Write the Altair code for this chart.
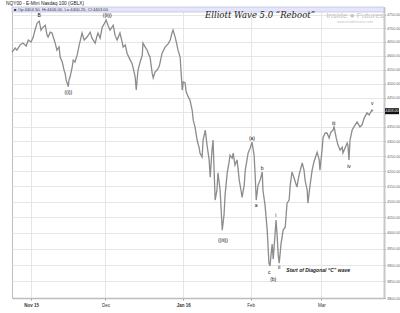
import altair as alt
import pandas as pd

# ---- data ----
session = [-5.4,-4.5,-4.0,-3.1,-2.3,-1.4,-0.8,0.0,0.6,1.1,
           1.7,2.3,2.8,3.1,4.0,4.5,4.8,5.4,5.9,6.8,
           7.3,7.9,8.2,8.8,9.3,9.6,9.9,10.5,10.7,11.0,
           11.6,11.9,12.4,13.0,13.6,14.4,15.0,15.8,16.7,17.2,
           18.1,18.6,18.9,19.5,20.1,20.6,21.2,21.8,22.3,23.2,
           23.7,24.3,25.1,25.7,26.0,26.6,27.1,28.0,28.5,29.1,
           29.4,29.7,30.0,30.2,30.8,31.4,31.6,32.2,32.8,33.3,
           33.6,34.2,34.5,35.0,35.6,36.2,36.4,37.0,37.9,38.7,
           39.3,39.8,40.1,40.7,41.2,41.5,42.1,42.7,43.0,43.5,
           43.8,44.4,44.9,45.5,45.8,46.3,46.9,47.5,47.7,48.3,
           48.6,49.2,49.7,50.3,50.6,51.1,51.4,51.7,52.0,52.5,
           52.8,53.4,53.7,54.0,54.5,54.8,55.4,55.9,56.2,56.8,
           57.1,57.6,58.2,58.8,59.3,59.6,60.2,60.5,61.0,61.3,
           61.9,62.4,63.0,63.3,63.6,64.1,64.7,65.3,65.5,66.1,
           66.7,67.0,67.2,67.5,67.8,68.1,68.4,68.9,69.2,69.5,
           69.8,70.1,70.6,71.2,71.8,72.3,72.9,73.2,73.7,74.3,
           75.1,75.7,76.6,77.1,77.4,78.0,78.2,78.8,79.4,79.9,
           80.8,81.4,81.6,82.2,82.5,83.1,83.6,84.2,84.7,85.3,
           85.6,86.2,86.7,87.3,87.9,88.1,88.7,89.3,89.5,89.8,
           90.1,90.7,91.2,92.1,92.9,93.5,94.1,94.9,95.5,96.3,
           96.6]
price = [4613,4628,4620,4639,4646,4635,4657,4650,4668,4694,
         4720,4727,4694,4701,4712,4675,4668,4686,4683,4646,
         4620,4632,4595,4577,4548,4537,4513,4489,4513,4523,
         4559,4584,4577,4602,4639,4683,4657,4668,4686,4664,
         4646,4672,4683,4664,4705,4716,4731,4709,4694,4712,
         4675,4657,4683,4650,4632,4639,4609,4584,4573,4541,
         4523,4477,4520,4548,4577,4602,4646,4632,4620,4602,
         4595,4537,4520,4541,4548,4562,4573,4609,4632,4643,
         4657,4683,4694,4668,4639,4620,4595,4477,4506,4503,
         4471,4453,4441,4407,4372,4349,4304,4277,4260,4247,
         4304,4338,4287,4237,4180,4270,4304,4203,4105,4137,
         4194,4137,4073,4009,4057,4121,4194,4227,4253,4243,
         4260,4220,4237,4170,4137,4114,4153,4203,4237,4260,
         4277,4297,4253,4187,4105,4153,4170,4197,4137,4088,
         4009,3946,3906,3897,3933,3965,3918,3993,4041,3993,
         3933,3906,3965,4009,4019,4095,4105,4153,4197,4177,
         4147,4187,4227,4203,4170,4137,4095,4153,4203,4230,
         4263,4237,4203,4270,4314,4328,4328,4311,4331,4338,
         4349,4311,4287,4270,4280,4260,4277,4294,4287,4237,
         4304,4338,4349,4366,4349,4356,4379,4397,4390,4407,
         4403]

wave_labels = ["B", "((i))", "((ii))", "((iii))", "(a)", "a", "b", "c", "(b)",
               "i", "ii", "iii", "iv", "v"]
wave_session = [2.3, 10.5, 21.5, 54.2, 62.4, 63.6, 65.3, 67.3, 68.4,
                69.1, 70.1, 85.5, 89.8, 96.4]
wave_price = [4750, 4470, 4750, 3978, 4311, 4088, 4210, 3879, 3857,
              4057, 3894, 4362, 4218, 4431]

month_session = [0, 21, 43, 62, 82]
month_labels = ["Nov 15", "Dec", "Jan 16", "Feb", "Mar"]
y_ticks = list(range(3800, 4751, 50))

last_price = [4403.00]
legend_text = "\u25a0 Op:4404.50, Hi:4406.00, Lo:4400.25, Cl:4403.00"
header_text = "NQY00 - E-Mini Nasdaq 100 (GBLX)"
title_text = "Elliott Wave 5.0 \u201cReboot\u201d"
note_text = "Start of Diagonal \u201cC\u201d wave"
note_session = [81.1]
note_price = [3885]

# ---- tables ----
df = pd.DataFrame({"session": session, "price": price})
lab = pd.DataFrame({"session": wave_session, "price": wave_price, "label": wave_labels})
note = pd.DataFrame({"session": note_session, "price": note_price, "label": [note_text]})
lastdf = pd.DataFrame({"price": last_price, "label": [f"{last_price[0]:.2f}"]})

label_map = "{" + ",".join(f"'{s}':'{l}'" for s, l in zip(month_session, month_labels)) + "}"

xscale = alt.Scale(domain=[-5.4, 99.7], nice=False, zero=False)
yscale = alt.Scale(type="log", domain=[3800, 4780], nice=False, zero=False)

x_enc = alt.X("session:Q", scale=xscale, axis=alt.Axis(
    values=month_session, labelExpr=f"{label_map}[datum.value]", title=None,
    grid=True, gridColor="#e6e6e6", domainColor="#bdbdbd", domainWidth=1.5,
    tickColor="#999", tickSize=2, labelFontSize=4.5, labelColor="#333",
    labelPadding=2, labelFont="Liberation Sans",
    labelFontWeight=alt.condition("datum.value == 0 || datum.value == 43",
                                  alt.value("bold"), alt.value("normal"))))
y_enc = alt.Y("price:Q", scale=yscale, axis=alt.Axis(
    orient="right", values=y_ticks, title=None, grid=True,
    labelExpr="datum.value == 4400 ? '' : format(datum.value, '.2f')",
    gridColor="#e6e6e6", domainColor="#c8c8c8", domainWidth=2,
    tickColor="#999", tickSize=1.5, labelFontSize=3.7, labelColor="#666",
    labelPadding=1, labelFont="Liberation Sans"))

line = alt.Chart(df).mark_line(color="#8c8c8c", strokeWidth=1.3, interpolate="linear").encode(
    x=x_enc, y=y_enc)

strip = alt.Chart(pd.DataFrame({"a": [0]})).mark_rect(
    fill="#e6e6fa", stroke="#b4b4dc", strokeWidth=0.6).encode(
    x=alt.value(0), x2=alt.value(372), y=alt.value(0), y2=alt.value(5))

legend = alt.Chart(pd.DataFrame({"label": [legend_text]})).mark_text(
    align="left", baseline="middle", fontSize=4.2, color="#333", font="Liberation Sans").encode(
    x=alt.value(2), y=alt.value(2.7), text="label:N")

header = alt.Chart(pd.DataFrame({"label": [header_text]})).mark_text(
    align="left", baseline="middle", fontSize=4.8, color="#222", font="Liberation Sans").encode(
    x=alt.value(-6), y=alt.value(-3.5), text="label:N")

title = alt.Chart(pd.DataFrame({"label": [title_text]})).mark_text(
    align="left", baseline="middle", fontSize=8.5, fontStyle="italic", color="#222",
    font="DejaVu Serif").encode(x=alt.value(193), y=alt.value(7.5), text="label:N")

wm1 = alt.Chart(pd.DataFrame({"label": ["Inside \u25cf Futures"]})).mark_text(
    align="center", baseline="middle", fontSize=8, color="#c4c4c4", font="Liberation Sans").encode(
    x=alt.value(343), y=alt.value(9), text="label:N")
wm2 = alt.Chart(pd.DataFrame({"label": ["www.insidefutures.com"]})).mark_text(
    align="center", baseline="middle", fontSize=3.5, color="#c4c4c4", font="Liberation Sans").encode(
    x=alt.value(343), y=alt.value(15), text="label:N")

waves = alt.Chart(lab).mark_text(fontSize=5, color="#111", font="Liberation Sans").encode(
    x=alt.X("session:Q", scale=xscale), y=alt.Y("price:Q", scale=yscale), text="label:N")

note_t = alt.Chart(note).mark_text(fontSize=5, color="#222", fontWeight="bold",
                                   fontStyle="italic", font="Liberation Sans").encode(
    x=alt.X("session:Q", scale=xscale), y=alt.Y("price:Q", scale=yscale), text="label:N")

last_box = alt.Chart(lastdf).mark_rect(color="#111", yOffset=-3, y2Offset=3).encode(
    x=alt.value(373), x2=alt.value(387), y=alt.Y("price:Q", scale=yscale), y2="price:Q")
last_txt = alt.Chart(lastdf).mark_text(fontSize=3.7, color="white", align="center",
                                       baseline="middle", font="Liberation Sans").encode(
    x=alt.value(380), y=alt.Y("price:Q", scale=yscale), text="label:N")

chart = alt.layer(line, strip, legend, header, title, wm1, wm2, waves, note_t,
                  last_box, last_txt).properties(
    width=372, height=291,
    autosize=alt.AutoSizeParams(type="none"),
    padding={"left": 12, "top": 7, "right": 16, "bottom": 15},
    background="white",
).configure_view(stroke="#bdbdbd", strokeWidth=1)

chart.save("out.html", embed_options={"renderer": "svg", "actions": False})
